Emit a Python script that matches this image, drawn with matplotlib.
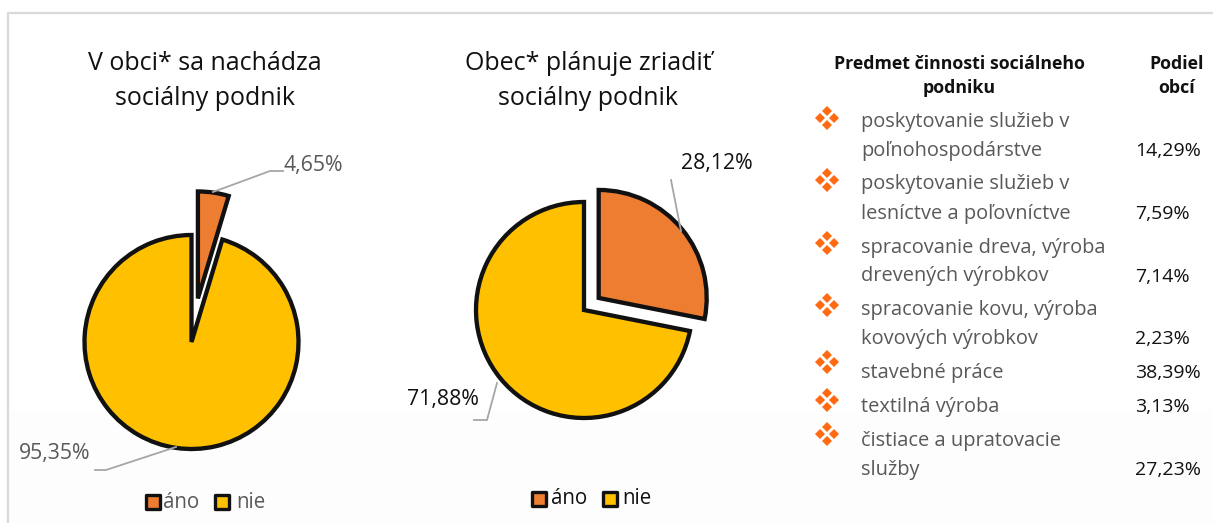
import matplotlib
matplotlib.use("Agg")
from matplotlib import pyplot as plt
from matplotlib.patches import Rectangle

plt.rcParams['font.family'] = ['Open Sans', 'DejaVu Sans']

W, H = 1213, 523

# pie charts
legend_labels = ['áno', 'nie']
values_left = [4.65, 95.35]
values_right = [28.12, 71.88]
title_left = 'V obci* sa nachádza\nsociálny podnik'
title_right = 'Obec* plánuje zriadiť\nsociálny podnik'
pct_left = ['4,65%', '95,35%']
pct_right = ['28,12%', '71,88%']

# table on the right
table_head = ['Predmet činnosti sociálneho\npodniku', 'Podiel\nobcí']
activities = ['poskytovanie služieb v\npoľnohospodárstve',
              'poskytovanie služieb v\nlesníctve a poľovníctve',
              'spracovanie dreva, výroba\ndrevených výrobkov',
              'spracovanie kovu, výroba\nkovových výrobkov',
              'stavebné práce',
              'textilná výroba',
              'čistiace a upratovacie\nslužby']
shares = ['14,29%', '7,59%', '7,14%', '2,23%', '38,39%', '3,13%', '27,23%']

orange = '#ed7d31'
yellow = '#ffc000'
bullet = '#ff6a13'
grey_text = '#595959'


def Y(y):
    return H - y


fig = plt.figure(figsize=(W / 100, H / 100), dpi=100)
ax = fig.add_axes([0, 0, 1, 1])

# frame around the picture
ax.add_patch(Rectangle((0, 0), W, H, fc='white', ec='none', zorder=0))
ax.add_patch(Rectangle((9, 0), W, Y(410), fc='#fdfdfd', ec='none', zorder=0))
ax.plot([8, 8, W], [0, Y(13), Y(13)], color='#d9d9d9', lw=1.6, zorder=1)

wedge_style = dict(edgecolor='#111111', linewidth=3.1, joinstyle='miter')
ax.pie(values_left, colors=[orange, yellow], explode=[44, 0], startangle=90,
       counterclock=False, center=(191.5, Y(342)), radius=107, frame=True,
       wedgeprops=wedge_style)
ax.pie(values_right, colors=[orange, yellow], explode=[19, 0], startangle=90,
       counterclock=False, center=(584, Y(310)), radius=108, frame=True,
       wedgeprops=wedge_style)

ax.set_xlim(0, W)
ax.set_ylim(0, H)
ax.set_aspect('auto')
ax.axis('off')

# titles
ax.text(205, Y(81), title_left, fontsize=18, ha='center', va='center', color='#111111', linespacing=1.55)
ax.text(588, Y(81), title_right, fontsize=18, ha='center', va='center', color='#111111', linespacing=1.55)

# data labels and leader lines
lead = '#a6a6a6'
ax.plot([213, 270, 283], [Y(192), Y(171), Y(171)], color=lead, lw=1.3)
ax.text(284, Y(166), pct_left[0], fontsize=15.3, color=grey_text, va='center')
ax.plot([95, 106, 176], [Y(470), Y(470), Y(447)], color=lead, lw=1.3)
ax.text(19, Y(453), pct_left[1], fontsize=15.3, color=grey_text, va='center')
ax.plot([681, 671], [Y(231), Y(180)], color=lead, lw=1.3)
ax.text(681, Y(163), pct_right[0], fontsize=15.3, color='#111111', va='center')
ax.plot([474, 487, 497], [Y(420), Y(420), Y(383)], color=lead, lw=1.3)
ax.text(407, Y(399), pct_right[1], fontsize=15.3, color='#111111', va='center')


def legend(x_box, x_text, y, color_text):
    for xb, xt, c, lab in zip(x_box, x_text, [orange, yellow], legend_labels):
        ax.add_patch(Rectangle((xb, Y(y + 7)), 14, 14, fc=c, ec='#111111', lw=2.4, joinstyle='round'))
        ax.text(xt, Y(y), lab, fontsize=14.8, color=color_text, va='center')


legend([146, 215], [163, 236], 502, grey_text)
legend([532, 603], [551, 622], 499, '#111111')

# table
ax.text(959, Y(76), table_head[0], fontsize=12.8, fontweight='bold', ha='center', va='center', color='#111111', linespacing=1.45)
ax.text(1177, Y(76), table_head[1], fontsize=12.8, fontweight='bold', ha='center', va='center', color='#111111', linespacing=1.45)

row_y = [136.5, 199, 262, 324.5, 373, 407, 455.5]
bullet_y = [118, 180, 243, 305, 362, 400, 434]
share_y = [151, 214, 277, 339, 373, 407, 470]
for lab, sh, ry, by, sy in zip(activities, shares, row_y, bullet_y, share_y):
    ax.text(861, Y(ry), lab, fontsize=14.4, color=grey_text, va='center', linespacing=1.6)
    ax.text(1135, Y(sy), sh, fontsize=14, color='#111111', va='center')
    for dx, dy in [(0, -7), (-7, 0), (7, 0), (0, 7)]:
        ax.plot(827 + dx, Y(by + dy), marker='D', ms=4.8, color=bullet, mew=0)

fig.savefig('out.png', dpi=100)
